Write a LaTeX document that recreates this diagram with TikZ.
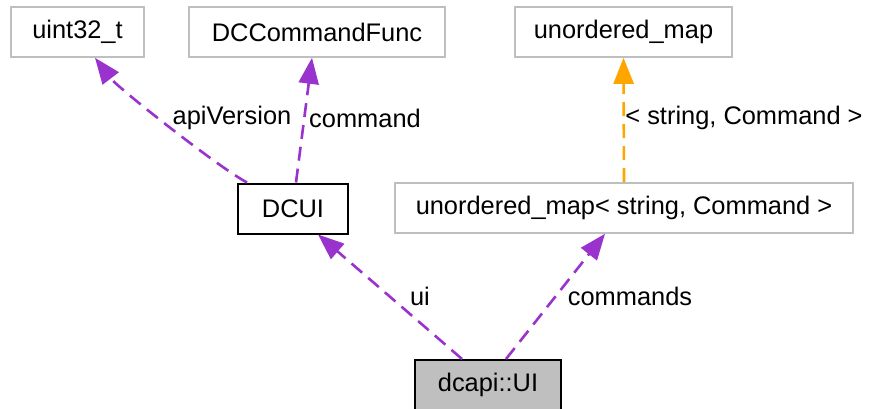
\documentclass[tikz,border=0pt]{standalone}
\usepackage{fontspec}
\setmainfont{Liberation Sans}
\usepackage{xcolor}
\usepackage{tikz}
\usetikzlibrary{arrows.meta}
\definecolor{edgepurple}{RGB}{154, 50, 205}
\definecolor{edgeorange}{RGB}{255, 165,  0}
\definecolor{boxgray}{RGB}{191, 191, 191}

\begin{document}
\begin{tikzpicture}[
  x=0.5pt, y=-0.5pt,
  every node/.style={font=\fontsize{12.7}{15}\selectfont},
  cls/.style={draw=boxgray, line width=0.8pt, fill=white, inner sep=0pt,
              minimum height=25pt},
  main/.style={draw=black, line width=1pt, inner sep=0pt, minimum height=25pt},
  lbl/.style={inner sep=0pt, text=black},
  uses/.style={-{Triangle[length=13pt, width=10pt]}, line width=1.3pt,
               dash pattern=on 7pt off 4pt, color=edgepurple},
  tmpl/.style={uses, color=edgeorange}
]
  \useasboundingbox (0,0) rectangle (871,408);

  \node[cls, minimum width=66.5pt] (uint) at (77.5,32) {uint32\_t};
  \node[cls, minimum width=128pt] (func) at (317,32) {DCCommandFunc};
  \node[cls, minimum width=108.5pt] (umap) at (623.5,32) {unordered\_map};

  \node[main, fill=white, minimum width=55pt] (dcui) at (293,208.5) {DCUI};
  \node[cls, minimum width=229pt] (cmdmap) at (624,208) {unordered\_map< string, Command >};

  \node[main, fill=boxgray, minimum width=73pt] (dcapiui) at (488,385) {dcapi::UI};

  % slightly bent, as the layout engine drew it
  \draw[uses] ([xshift=5pt]dcui.north west) .. controls (218,167) and (118,88) .. ([xshift=8.75pt]uint.south);
  \node[lbl] (lapi) at (232,118) {apiVersion};

  \draw[uses] ([xshift=1.5pt]dcui.north) -- ([xshift=-2.5pt]func.south);
  \node[lbl] (lcmd) at (365,118) {command};

  \draw[tmpl] (cmdmap.north) -- (umap.south);
  \node[lbl] (ltmpl) at (744,118) {< string, Command >};

  \draw[uses] ([xshift=-13pt]dcapiui.north) -- ([xshift=12.5pt]dcui.south);
  \node[lbl] (lui) at (420,296) {ui};

  \draw[uses] ([xshift=9pt]dcapiui.north) -- ([xshift=-9.5pt]cmdmap.south);
  \node[lbl] (lcmds) at (630,296) {commands};
\end{tikzpicture}
\end{document}
